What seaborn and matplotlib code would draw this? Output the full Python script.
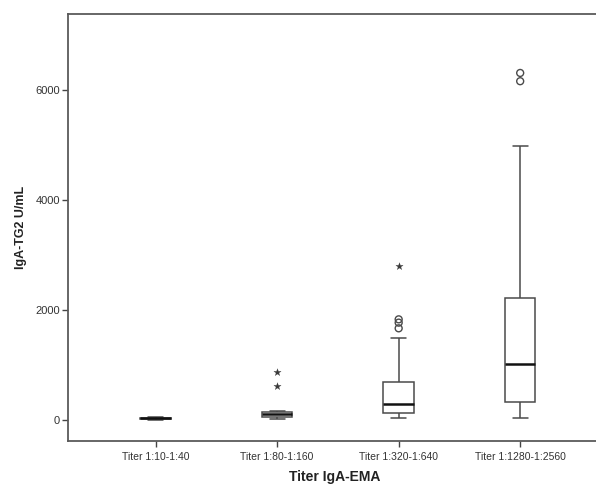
import numpy as np
import pandas as pd
import matplotlib
matplotlib.use("Agg")
import matplotlib.pyplot as plt
import seaborn as sns

# ---- data ----
categories = ["Titer 1:10-1:40", "Titer 1:80-1:160", "Titer 1:320-1:640", "Titer 1:1280-1:2560"]
g1 = [5, 10, 30, 45, 60]
g2 = [25, 35, 45, 55, 75, 90, 100, 115, 130, 145, 160, 624, 879]
g3 = [30, 50, 70, 90, 110, 121, 150, 190, 230, 260, 285, 350, 430, 520, 610, 697,
      1497, 1667, 1770, 1830, 2800]
g4 = [30, 150, 250, 321, 500, 800, 1018, 1300, 1700, 2218, 4987, 6160, 6310]
groups = [g1, g2, g3, g4]
yticks = [0, 2000, 4000, 6000]

rows = []
for cat, vals in zip(categories, groups):
    for v in vals:
        rows.append((cat, v))
df = pd.DataFrame(rows, columns=["titer", "value"])

# SPSS-style outliers: circles beyond 1.5 IQR, stars beyond 3 IQR
circ, star = [], []
for cat, vals in zip(categories, groups):
    q1, q3 = np.percentile(vals, [25, 75])
    iqr = q3 - q1
    for v in vals:
        if v > q3 + 3 * iqr or v < q1 - 3 * iqr:
            star.append((cat, v))
        elif v > q3 + 1.5 * iqr or v < q1 - 1.5 * iqr:
            circ.append((cat, v))
circ_df = pd.DataFrame(circ, columns=["titer", "value"])
star_df = pd.DataFrame(star, columns=["titer", "value"])

sns.set_style("white")
plt.rcParams["font.family"] = ["Liberation Sans", "DejaVu Sans"]

fig = plt.figure(figsize=(5.96, 4.87), dpi=100)
ax = fig.add_axes([67.7 / 596, 1 - 441 / 487, 1 - 67.7 / 596 + 0.01, (441 - 14) / 487])

line_c = "#4a4a4a"
sns.boxplot(data=df, x="titer", y="value", order=categories, ax=ax,
            width=0.25, showfliers=False, color="white", linecolor=line_c,
            linewidth=1.1,
            medianprops=dict(color="#111111", linewidth=1.8),
            boxprops=dict(facecolor="white", edgecolor=line_c))

sns.stripplot(data=circ_df, x="titer", y="value", order=categories, ax=ax,
              jitter=False, marker="o", size=5.0, color=line_c,
              facecolors="none", edgecolor=line_c, linewidth=1.0)
sns.stripplot(data=star_df, x="titer", y="value", order=categories, ax=ax,
              jitter=False, marker="*", size=5.5, color="#3a3a3a",
              edgecolor="#3a3a3a", linewidth=0.2)

ax.set_xlim(-0.724, 3.624 + 0.01 * 4.35 / (1 - 67.7 / 596))
ax.set_ylim(-382, 7382)
ax.set_yticks(yticks)
ax.set_yticklabels([str(t) for t in yticks])

for s in ["top", "left", "bottom"]:
    ax.spines[s].set_visible(True)
    ax.spines[s].set_color("#5a5a5a")
    ax.spines[s].set_linewidth(1.3)
ax.spines["right"].set_visible(False)

ax.tick_params(axis="y", direction="out", length=4, width=1.0, color="#444444",
               pad=1.5, labelsize=8, labelcolor="#333333", left=True)
ax.tick_params(axis="x", direction="out", length=4, width=1.0, color="#444444",
               pad=4, labelsize=7.5, labelcolor="#333333", bottom=True)

ax.set_xlabel("Titer IgA-EMA", fontsize=10, fontweight="bold", color="#222222", labelpad=6)
ax.set_ylabel("IgA-TG2 U/mL", fontsize=9, fontweight="bold", color="#222222", labelpad=6)

fig.savefig("out.png", dpi=100)
